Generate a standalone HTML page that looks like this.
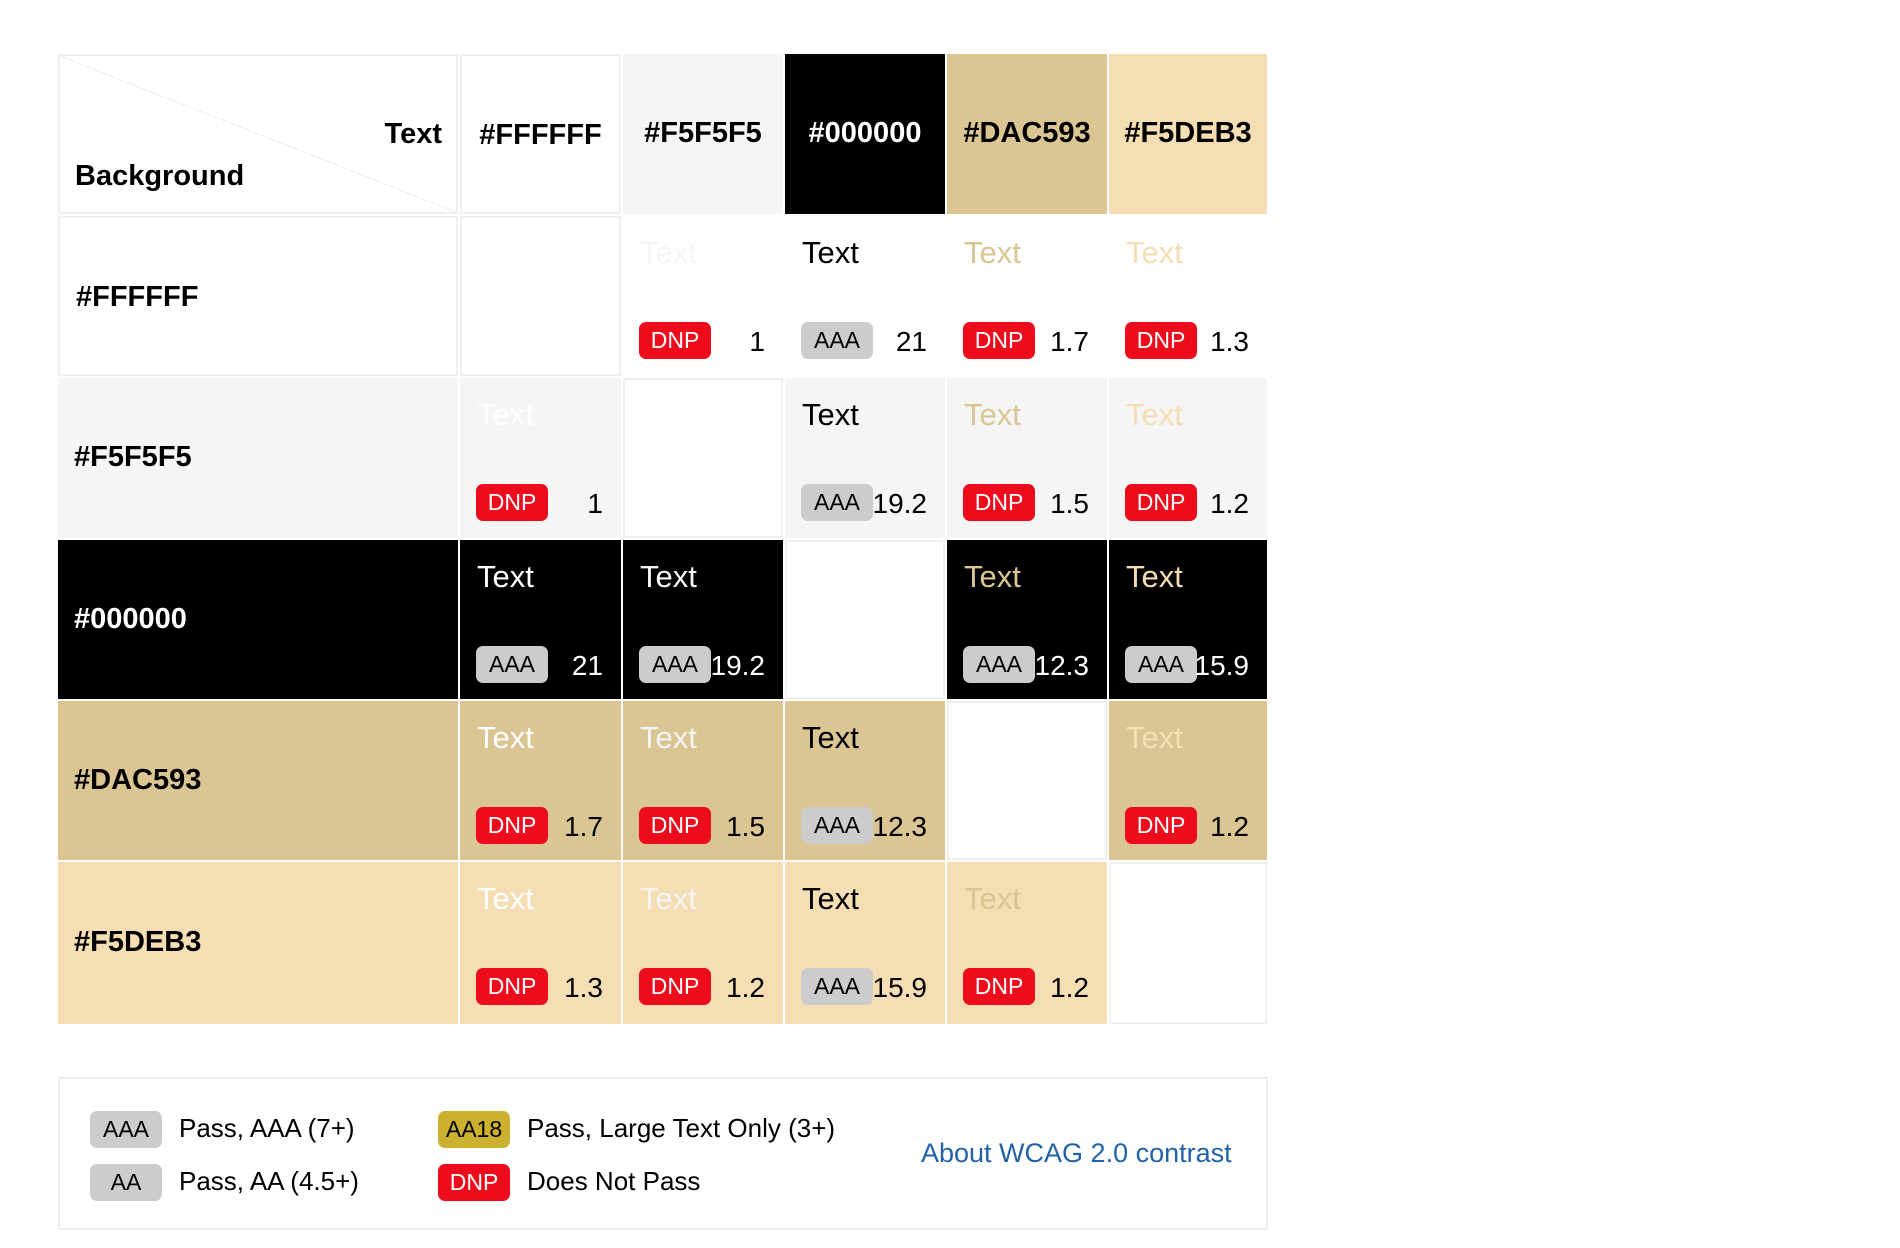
<!DOCTYPE html>
<html><head><meta charset="utf-8">
<style>
body{margin:0;background:#fff;width:1900px;height:1248px;overflow:hidden;font-family:"Liberation Sans",sans-serif;}
.cell{position:absolute;box-sizing:border-box;}
.wb{border:2px solid #f0f0f0;}
.badge{position:absolute;width:72px;height:37px;border-radius:7px;font-size:23px;line-height:37px;text-align:center;}
.num{position:absolute;font-size:28px;line-height:37px;}
.sample{position:absolute;font-size:31px;}
.hdr{position:absolute;font-weight:bold;font-size:29px;}
.leg{position:absolute;font-size:26px;color:#000;}
</style></head><body>
<div id="tbl"></div>
<div class="cell" style="left:58px;top:1077px;width:1210px;height:153px;border:2px solid #efefef;">
</div>
<div class="badge" style="left:90px;top:1111px;background:#ccc;color:#000;">AAA</div>
<div class="leg" style="left:179px;top:1113px;">Pass, AAA (7+)</div>
<div class="badge" style="left:90px;top:1164px;background:#ccc;color:#000;">AA</div>
<div class="leg" style="left:179px;top:1166px;">Pass, AA (4.5+)</div>
<div class="badge" style="left:438px;top:1111px;background:#ccb02f;color:#000;">AA18</div>
<div class="leg" style="left:527px;top:1113px;">Pass, Large Text Only (3+)</div>
<div class="badge" style="left:438px;top:1164px;background:#ec0c1c;color:#fff;">DNP</div>
<div class="leg" style="left:527px;top:1166px;">Does Not Pass</div>
<a style="position:absolute;left:921px;top:1138px;font-size:27px;color:#2262a8;text-decoration:none;">About WCAG 2.0 contrast</a>
<script>
const colors=["#FFFFFF","#F5F5F5","#000000","#DAC593","#F5DEB3"];
const ratios=[[null,1,21,1.7,1.3],[1,null,19.2,1.5,1.2],[21,19.2,null,12.3,15.9],[1.7,1.5,12.3,null,1.2],[1.3,1.2,15.9,1.2,null]];
const ratings=[[null,"DNP","AAA","DNP","DNP"],["DNP",null,"AAA","DNP","DNP"],["AAA","AAA",null,"AAA","AAA"],["DNP","DNP","AAA",null,"DNP"],["DNP","DNP","AAA","DNP",null]];
const colX=[58,460,623,785,947,1109,1269];
const rowY=[54,216,378,540,701,862,1026];
const tbl=document.getElementById('tbl');
function mk(cls,l,t,w,h,bg){const d=document.createElement('div');d.className=cls;d.style.cssText=`left:${l}px;top:${t}px;width:${w}px;height:${h}px;`+(bg?`background:${bg};`:'');tbl.appendChild(d);return d;}
const G=2;
let c=mk('cell wb',colX[0],rowY[0],colX[1]-colX[0]-G,rowY[1]-rowY[0]-G);


c.innerHTML='<svg width="100%" height="100%" style="position:absolute;left:0;top:0" preserveAspectRatio="none" viewBox="0 0 100 100"><line x1="0" y1="0" x2="100" y2="100" stroke="#eee" stroke-width="0.5"/></svg><div class="hdr" style="right:14px;top:62px;font-size:29px">Text</div><div class="hdr" style="left:15px;top:104px;font-size:29px">Background</div>';
colors.forEach((col,j)=>{
  const w=colX[j+2]-colX[j+1]-G,h=rowY[1]-rowY[0]-G;
  const d=mk('cell'+(col==='#FFFFFF'?' wb':''),colX[j+1],rowY[0],w,h,col);
  
  
  const t=document.createElement('div');t.className='hdr';t.textContent=col;
  t.style.cssText=`left:0;width:100%;text-align:center;top:63px;color:${col==='#000000'?'#fff':'#000'}`;d.appendChild(t);
});
colors.forEach((bg,i)=>{
  const y=rowY[i+1],h=rowY[i+2]-y-G;
  const rh=mk('cell'+(bg==='#FFFFFF'?' wb':''),colX[0],y,colX[1]-colX[0]-G,h,bg);
  
  
  const t=document.createElement('div');t.className='hdr';t.textContent=bg;
  t.style.cssText=`left:16px;top:${h/2-17}px;color:${bg==='#000000'?'#fff':'#000'}`;rh.appendChild(t);
  colors.forEach((fg,j)=>{
    const w=colX[j+2]-colX[j+1]-G;
    if(i===j){const e=mk('cell wb',colX[j+1],y,w,h);
      
      return;}
    const d=mk('cell',colX[j+1],y,w,h,bg);
    
    
    const dark=bg==='#000000';
    const s=document.createElement('div');s.className='sample';s.textContent='Text';s.style.cssText=`left:17px;top:19px;color:${fg}`;d.appendChild(s);
    const b=document.createElement('div');b.className='badge';b.textContent=ratings[i][j];
    
    
    const isD=ratings[i][j]==='DNP';
    b.style.cssText=`left:16px;top:106px;background:${isD?'#ec0c1c':'#ccc'};color:${isD?'#fff':'#000'}`;d.appendChild(b);
    const n=document.createElement('div');n.className='num';n.textContent=ratios[i][j];
    
    
    n.style.cssText=`right:18px;top:107px;color:${dark?'#fff':'#000'}`;d.appendChild(n);
  });
});
</script>
</body></html>
